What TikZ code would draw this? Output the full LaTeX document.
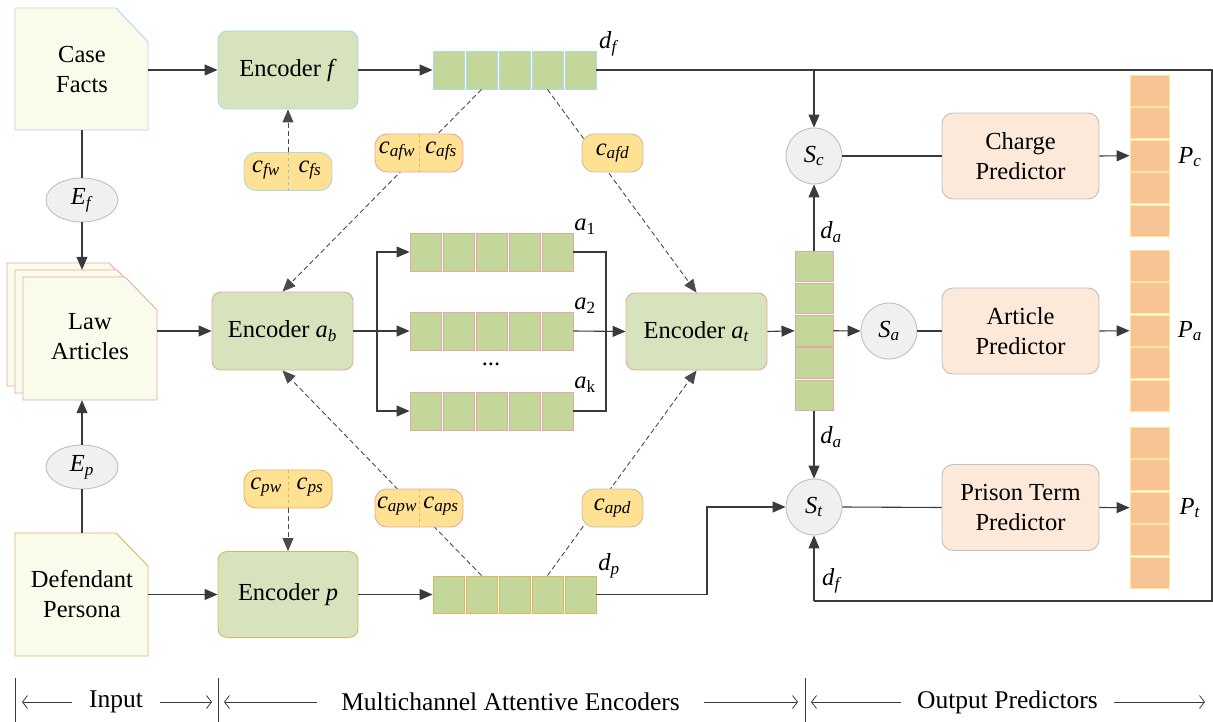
\documentclass[tikz,border=0pt]{standalone}
\usepackage{fontspec}
\setmainfont{Liberation Serif}
\newfontfamily\figfont{Liberation Serif}
\usetikzlibrary{arrows.meta,calc,shapes.geometric}

\definecolor{docfill}{HTML}{FAFCEB}
\definecolor{encfill}{HTML}{D6E3BC}
\definecolor{cellfill}{HTML}{C4D79B}
\definecolor{pillfill}{HTML}{FFE194}
\definecolor{opfill}{HTML}{F0F0F0}
\definecolor{opline}{HTML}{BFBFBF}
\definecolor{predfill}{HTML}{FCE9DA}
\definecolor{outfill}{HTML}{F8C496}
\definecolor{outline}{HTML}{FFE699}
\definecolor{cyanb}{HTML}{ADD9E4}
\definecolor{pinkb}{HTML}{E6A8A2}
\definecolor{goldb}{HTML}{DDB65A}
\definecolor{tanb}{HTML}{CDBE9E}
\definecolor{linec}{HTML}{3A3A3A}
\definecolor{dashc}{HTML}{4A4A4A}

\newcommand{\mv}[2]{\textit{#1}\textsubscript{\textit{#2}}}
\newcommand{\mvu}[2]{\textit{#1}\textsubscript{#2}}

\begin{document}
\begin{tikzpicture}[x=1pt,y=-1pt,
  every node/.style={font=\figfont\fontsize{24.5}{30}\selectfont, text=black},
  conn/.style={draw=linec, line width=1.1pt},
  arr/.style={conn, -{Triangle[length=13pt,width=11pt]}},
  dsh/.style={draw=dashc, line width=0.9pt, dash pattern=on 5pt off 3pt},
  darr/.style={dsh, -{Triangle[length=13pt,width=11pt]}},
  docshape/.style={fill=docfill, line width=0.9pt},
  holder/.style={rectangle, inner sep=0pt, align=center},
  enc/.style={rectangle, rounded corners=9pt, fill=encfill, line width=0.9pt, align=center, inner sep=0pt},
  pred/.style={rectangle, rounded corners=11pt, fill=predfill, draw=opline, line width=0.9pt, align=center, inner sep=0pt,
               minimum width=157pt, minimum height=86pt},
  op/.style={circle, fill=opfill, draw=opline, line width=0.9pt, minimum size=56pt, inner sep=0pt},
  emb/.style={ellipse, fill=opfill, draw=opline, line width=0.9pt, minimum width=72pt, minimum height=44pt, inner sep=0pt},
  cell/.style={rectangle, fill=cellfill, line width=0.9pt, inner sep=0pt, minimum width=31pt, minimum height=38pt},
  vcell/.style={rectangle, fill=cellfill, draw=pinkb, line width=0.9pt, inner sep=0pt, minimum width=38pt, minimum height=30.5pt},
  ocell/.style={rectangle, fill=outfill, draw=outline, line width=0.9pt, inner sep=0pt, minimum width=39pt, minimum height=31pt},
  pill/.style={rectangle, rounded corners=12pt, fill=pillfill, line width=0.9pt, inner sep=0pt, minimum height=38pt},
  lbl/.style={inner sep=0pt},
  stage/.style={inner sep=0pt, font=\figfont\fontsize{25.5}{30}\selectfont},
  span/.style={draw=linec, line width=0.8pt, -{Straight Barb[length=5pt,width=13pt]}},
]
\useasboundingbox (0,0) rectangle (1213,722);

% ---------- input documents ----------
\draw[docshape, draw=cyanb] (15,8) -- (116,8) -- (148,42) -- (148,130) -- (15,130) -- cycle;
\node[holder, minimum width=133pt, minimum height=122pt] (cf) at (81.5,69) {};
\node[holder] at (82,70) {Case\\Facts};

\draw[docshape, draw=pinkb] (7,263) -- (109,263) -- (141,296) -- (141,386) -- (7,386) -- cycle;
\draw[docshape, draw=pinkb] (15,270) -- (117,270) -- (149,303) -- (149,393) -- (15,393) -- cycle;
\node[holder, minimum width=134pt, minimum height=123pt] (lam) at (82,331.5) {};
\draw[docshape, draw=pinkb] (23,277) -- (125,277) -- (157,310) -- (157,400) -- (23,400) -- cycle;
\node[holder, minimum width=134pt, minimum height=123pt] (la) at (90,338.5) {};
\node[holder] at (90,337) {Law\\Articles};

\draw[docshape, draw=goldb] (15,533) -- (116,533) -- (148,566) -- (148,656) -- (15,656) -- cycle;
\node[holder, minimum width=133pt, minimum height=123pt] (dfp) at (81.5,594.5) {};
\node[holder] at (82,594) {Defendant\\Persona};

\node[emb] (ef) at (82,200) {\mv{E}{f}};
\node[emb] (ep) at (82,467) {\mv{E}{p}};

\draw[conn] (cf.south -| ef) -- (ef.north);
\draw[arr] (ef.south) -- (lam.north -| ef);
\draw[arr] (ep.north) -- (la.south -| ep);
\draw[conn] (ep.south) -- (dfp.north -| ep);

% ---------- encoders ----------
\node[enc, draw=cyanb, minimum width=140pt, minimum height=78pt] (encf) at (288,70) {Encoder \textit{f}};
\node[enc, draw=pinkb, minimum width=141pt, minimum height=78pt] (eab) at (282.5,331) {Encoder \mv{a}{b}};
\node[enc, draw=goldb, minimum width=140pt, minimum height=86pt] (encp) at (288,594.5) {Encoder \textit{p}};
\node[enc, draw=pinkb, minimum width=141pt, minimum height=77pt] (eat) at (696.5,331.5) {Encoder \mv{a}{t}};

\draw[arr] (cf.east |- encf) -- (encf.west);
\draw[arr] (la.east |- eab) -- (eab.west);
\draw[arr] (dfp.east |- encp) -- (encp.west);

% ---------- vectors ----------
\foreach \i in {1,...,5} {
  \node[cell, draw=cyanb] (df\i) at ({448.5+33*(\i-1)},70) {};
  \node[cell, draw=goldb, minimum height=37pt] (dp\i) at ({448.5+33*(\i-1)},594.5) {};
  \node[cell, draw=pinkb] (aa\i) at ({425.5+33*(\i-1)},252) {};
  \node[cell, draw=pinkb] (ab\i) at ({425.5+33*(\i-1)},331) {};
  \node[cell, draw=pinkb] (ak\i) at ({425.5+33*(\i-1)},411) {};
  \node[vcell] (da\i) at (814,{266.25+32.25*(\i-1)}) {};
  \node[ocell] (pc\i) at (1149.5,{90.5+32.6*(\i-1)}) {};
  \node[ocell] (pa\i) at (1149.5,{265.5+32.6*(\i-1)}) {};
  \node[ocell] (pt\i) at (1149.5,{442.5+32.6*(\i-1)}) {};
}

\node[lbl] at (609,44) {\mv{d}{f}};
\node[lbl] at (609,566) {\mv{d}{p}};
\node[lbl] at (585,227) {\mvu{a}{1}};
\node[lbl] at (585,306) {\mvu{a}{2}};
\node[lbl] at (585,385) {\mvu{a}{k}};
\node[lbl] at (491,364) {...};

\draw[arr] (encf) -- (df1.west);
\draw[arr] (encp) -- (dp1.west);

% fan-out from Encoder a_b and fan-in to Encoder a_t
\coordinate (bx) at (377,331);
\coordinate (cx) at (606,331);
\draw[arr] (eab.east) -- (ab1.west);
\draw[arr] (bx) |- (aa1.west);
\draw[arr] (bx) |- (ak1.west);
\draw[conn] (aa5.east) -| (cx);
\draw[conn] (ak5.east) -| (cx);
\draw[arr] (ab5.east) -- (eat.west);
\draw[arr] (eat.east) -- (da3.west);

% ---------- knowledge-guided dashed links ----------
\draw[darr] (df2.south) -- (eab.north);
\draw[darr] (df4.south) -- (eat.north);
\draw[darr] (dp2.north) -- (eab.south);
\draw[darr] (dp4.north) -- (eat.south);

\node[pill, draw=pinkb, minimum width=88pt] (cafp) at (419,153) {};
\draw[dashed, draw=goldb!80!pinkb, line width=0.8pt] (cafp.north) -- (cafp.south);
\node[lbl] at (397,151) {\mv{c}{afw}};
\node[lbl] at (441,151) {\mv{c}{afs}};

\node[pill, draw=tanb, minimum width=61pt] (cafd) at (612.5,153) {\mv{c}{afd}};

\node[pill, draw=pinkb, minimum width=88pt] (capp) at (419,508) {};
\draw[dashed, draw=goldb!80!pinkb, line width=0.8pt] (capp.north) -- (capp.south);
\node[lbl] at (397,506) {\mv{c}{apw}};
\node[lbl] at (441,506) {\mv{c}{aps}};

\node[pill, draw=tanb, minimum width=61pt] (capd) at (612.5,508) {\mv{c}{apd}};

\node[pill, draw=cyanb, minimum width=88pt] (cfp) at (288,171.5) {};
\draw[dashed, draw=cyanb!70!gray, line width=0.8pt] (cfp.north) -- (cfp.south);
\node[lbl] at (266,170) {\mv{c}{fw}};
\node[lbl] at (310,170) {\mv{c}{fs}};
\draw[darr] (cfp.north) -- (encf.south);

\node[pill, draw=goldb, minimum width=88pt] (cpp) at (288,489) {};
\draw[dashed, draw=goldb, line width=0.8pt] (cpp.north) -- (cpp.south);
\node[lbl] at (266,487) {\mv{c}{pw}};
\node[lbl] at (310,487) {\mv{c}{ps}};
\draw[darr] (cpp.south) -- (encp.north);

% ---------- output predictors ----------
\node[op] (sc) at (814,156) {\mv{S}{c}};
\node[op] (sa) at (889,331) {\mv{S}{a}};
\node[op] (st) at (814,507) {\mv{S}{t}};

\node[pred] (cp) at (1020.5,156) {Charge\\Predictor};
\node[pred] (ap) at (1020.5,331) {Article\\Predictor};
\node[pred] (pp) at (1020.5,507.5) {Prison Term\\Predictor};

\coordinate (rt) at (1212,70);
\coordinate (rb) at (1212,601);
\draw[conn] (df5.east) -- (rt) -- (rb) -- (rb -| st);
\draw[arr] (rb -| st) -- (st.south);
\draw[arr] (rt -| sc) -- (sc.north);

\draw[arr] (da1.north) -- (sc.south);
\draw[arr] (da5.south) -- (st.north);
\draw[arr] (da3.east) -- (sa.west);

\coordinate (dj) at (707,594.5);
\draw[conn] (dp5.east) -- (dj);
\draw[arr] (dj) |- (st.west);

\draw[conn] (sc.east) -- (cp.west);
\draw[conn] (sa.east) -- (ap.west);
\draw[conn] (st.east) -- (pp.west);
\draw[arr] (cp.east) -- (pc3.west);
\draw[arr] (ap.east) -- (pa3.west);
\draw[arr] (pp.east) -- (pt3.west);

\node[lbl] at (831,232) {\mv{d}{a}};
\node[lbl] at (831,437) {\mv{d}{a}};
\node[lbl] at (832,581) {\mv{d}{f}};

\node[lbl] at (1190,157) {\mv{P}{c}};
\node[lbl] at (1190,331) {\mv{P}{a}};
\node[lbl] at (1190,508) {\mv{P}{t}};

% ---------- stage spans ----------
\coordinate (s0) at (15,678);
\coordinate (s1) at (218,678);
\coordinate (s2) at (805,678);
\draw[draw=linec, line width=0.8pt] (s0) -- (15,722);
\draw[draw=linec, line width=0.8pt] (s1) -- (218,722);
\draw[draw=linec, line width=0.8pt] (s2) -- (805,722);

\node[stage] (tin) at (116,702) {Input};
\node[stage] (tme) at (510.5,702) {Multichannel Attentive Encoders};
\node[stage] (top) at (1007.5,702) {Output Predictors};

\draw[span] (72,702) -- (22,702);
\draw[span] (160,702) -- (212,702);
\draw[span] (317,702) -- (224,702);
\draw[span] (704,702) -- (798,702);
\draw[span] (901,702) -- (811,702);
\draw[span] (1114,702) -- (1205,702);
\end{tikzpicture}
\end{document}
